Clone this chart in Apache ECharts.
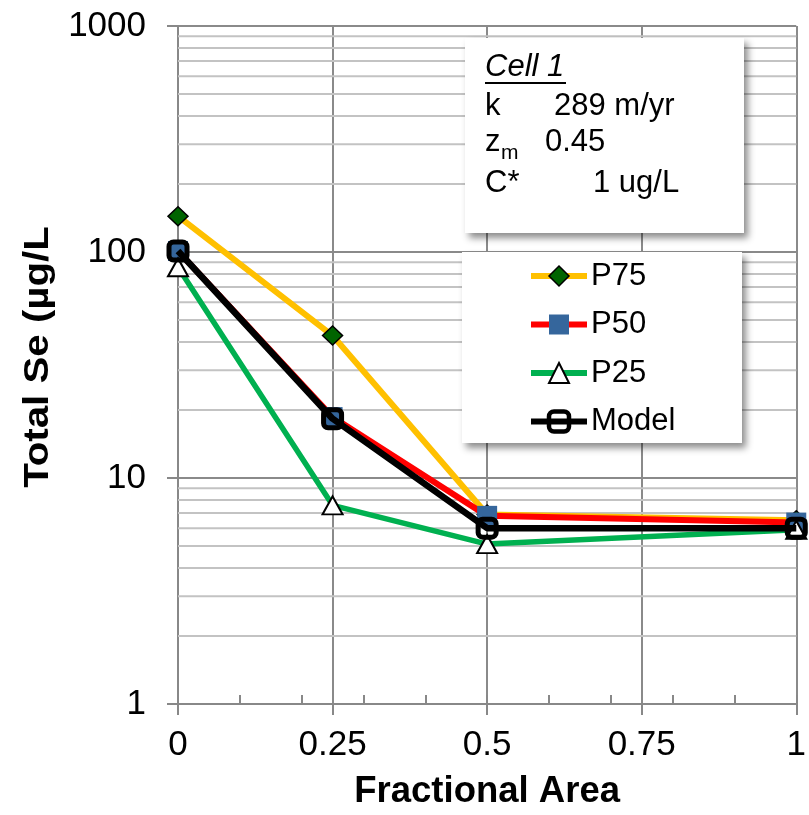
<!DOCTYPE html>
<html>
<head>
<meta charset="utf-8">
<style>html,body{margin:0;padding:0;background:#fff;}#c{width:809px;height:815px;}</style>
<script src="https://cdn.jsdelivr.net/npm/echarts/dist/echarts.min.js"></script>
</head>
<body>
<div id="c"></div>
<script>
// ---- data ----
const xValues = [0, 0.25, 0.5, 1];
const p75 = [144, 42.7, 6.9, 6.5];
const p50 = [101, 18.6, 6.8, 6.35];
const p25 = [85.6, 7.57, 5.1, 5.9];
const model = [101, 18.3, 6.0, 6.0];
const seriesNames = ['P75', 'P50', 'P25', 'Model'];
const minorGridValues = [2,3,4,5,6,7,8,9,20,30,40,50,60,70,80,90,200,300,400,500,600,700,800,900];
const xTickLabels = ['0', '0.25', '0.5', '0.75', '1'];
const yTickLabels = ['1', '10', '100', '1000'];

const FONT = "'Liberation Sans', Arial, sans-serif";
const zip = arr => xValues.map((x, i) => [x, arr[i]]);

const chart = echarts.init(document.getElementById('c'), null, {renderer: 'canvas'});

const option = {
  animation: false,
  backgroundColor: '#fff',
  grid: {left: 178, right: 12, top: 26, bottom: 111, containLabel: false},
  xAxis: [{
    type: 'value', min: 0, max: 1, interval: 0.25,
    axisLine: {show: true, onZero: false, lineStyle: {color: '#888', width: 2}},
    axisTick: {show: true, inside: false, length: 11, lineStyle: {color: '#888', width: 2}},
    axisLabel: {
      margin: 24, fontSize: 35, fontFamily: FONT, color: '#000',
      formatter: v => xTickLabels[Math.round(v / 0.25)]
    },
    splitLine: {show: true, lineStyle: {color: '#8a8a8a', width: 2}},
    name: 'Fractional Area', nameLocation: 'middle', nameGap: 69,
    nameTextStyle: {fontSize: 36.5, fontWeight: 'bold', fontFamily: FONT, color: '#000'}
  }, {
    type: 'value', min: 0, max: 1, interval: 0.1, position: 'bottom',
    axisLine: {show: false, onZero: false},
    axisTick: {show: true, inside: true, length: 9, lineStyle: {color: '#888', width: 2}},
    axisLabel: {show: false},
    splitLine: {show: false}
  }],
  yAxis: {
    type: 'log', logBase: 10, min: 1, max: 1000, interval: 1,
    axisLine: {show: true, lineStyle: {color: '#888', width: 2}},
    axisTick: {show: true, inside: false, length: 11, lineStyle: {color: '#888', width: 2}},
    axisLabel: {
      margin: 32, fontSize: 35, fontFamily: FONT, color: '#000',
      formatter: v => yTickLabels[Math.round(Math.log10(v))]
    },
    splitLine: {show: true, lineStyle: {color: '#8a8a8a', width: 2}}
  },
  legend: {
    orient: 'vertical', left: 528, top: 259, padding: 0,
    itemWidth: 56, itemHeight: 25, itemGap: 14.5,
    data: [
      {name: 'P75', itemStyle: {borderWidth: 1.5}},
      {name: 'P50', itemStyle: {borderWidth: 0}},
      {name: 'P25', itemStyle: {borderWidth: 2}},
      {name: 'Model', itemStyle: {borderWidth: 4.5}}
    ],
    textStyle: {fontSize: 31, fontFamily: FONT, color: '#000', lineHeight: 34, padding: [0, 0, 0, -1]},
    lineStyle: {width: 6},
    z: 6
  },
  graphic: [
    {type: 'text', z: 4, x: 38, y: 357, rotation: Math.PI / 2, scaleX: 1.15,
     style: {text: 'Total Se (\u00b5g/L', font: 'bold 35px ' + FONT, fill: '#000', align: 'center', verticalAlign: 'middle'}},
    {type: 'rect', z: 3, shape: {x: 465, y: 38, width: 279, height: 195},
     style: {fill: '#fff', shadowBlur: 7, shadowOffsetX: 4, shadowOffsetY: 5, shadowColor: 'rgba(0,0,0,0.45)'}},
    {type: 'rect', z: 3, shape: {x: 462, y: 252, width: 280, height: 191},
     style: {fill: '#fff', shadowBlur: 7, shadowOffsetX: 4, shadowOffsetY: 5, shadowColor: 'rgba(0,0,0,0.45)'}},
    {type: 'text', z: 4, x: 485, y: 67, style: {text: 'Cell 1', font: 'italic 31px ' + FONT, fill: '#000', verticalAlign: 'middle'}},
    {type: 'line', z: 4, shape: {x1: 485, y1: 83, x2: 566, y2: 83}, style: {stroke: '#000', lineWidth: 2}},
    {type: 'text', z: 4, x: 485, y: 106, style: {text: 'k', font: '31px ' + FONT, fill: '#000', verticalAlign: 'middle'}},
    {type: 'text', z: 4, x: 554, y: 106, style: {text: '289 m/yr', font: '31px ' + FONT, fill: '#000', verticalAlign: 'middle'}},
    {type: 'text', z: 4, x: 485, y: 142, style: {text: 'z', font: '31px ' + FONT, fill: '#000', verticalAlign: 'middle'}},
    {type: 'text', z: 4, x: 501, y: 153, style: {text: 'm', font: '21px ' + FONT, fill: '#000', verticalAlign: 'middle'}},
    {type: 'text', z: 4, x: 545, y: 142, style: {text: '0.45', font: '31px ' + FONT, fill: '#000', verticalAlign: 'middle'}},
    {type: 'text', z: 4, x: 485, y: 183, style: {text: 'C*', font: '31px ' + FONT, fill: '#000', verticalAlign: 'middle'}},
    {type: 'text', z: 4, x: 593, y: 183, style: {text: '1 ug/L', font: '31px ' + FONT, fill: '#000', verticalAlign: 'middle'}}
  ],
  series: [
    {
      name: '_minor', type: 'custom', z: 1, silent: true,
      data: minorGridValues.map(v => [0, v]),
      encode: {x: 0, y: 1},
      renderItem: (params, api) => {
        const y = api.coord([api.value(0), api.value(1)])[1];
        const cs = params.coordSys;
        return {type: 'line', shape: {x1: cs.x, y1: y, x2: cs.x + cs.width, y2: y},
                style: {stroke: '#c3c3c3', lineWidth: 2}};
      }
    },
    {
      name: 'P75', type: 'line', data: zip(p75), z: 2,
      lineStyle: {color: '#FFC000', width: 6},
      symbol: 'diamond', symbolSize: [20, 19],
      itemStyle: {color: '#006400', borderColor: '#000', borderWidth: 1.5}
    },
    {
      name: 'P50', type: 'line', data: zip(p50), z: 3,
      lineStyle: {color: '#FF0000', width: 6},
      symbol: 'rect', symbolSize: 20,
      itemStyle: {color: '#35669C', borderColor: '#35669C', borderWidth: 0}
    },
    {
      name: 'P25', type: 'line', data: zip(p25), z: 4,
      lineStyle: {color: '#00B050', width: 5.5},
      symbol: 'triangle', symbolSize: [20, 18],
      itemStyle: {color: '#fff', borderColor: '#000', borderWidth: 2}
    },
    {
      name: 'Model', type: 'line', data: zip(model), z: 5,
      lineStyle: {color: '#000', width: 6.5},
      symbol: 'roundRect', symbolSize: 18,
      itemStyle: {color: 'rgba(0,0,0,0)', borderColor: '#000', borderWidth: 5}
    }
  ]
};
chart.setOption(option);
</script>
</body>
</html>
